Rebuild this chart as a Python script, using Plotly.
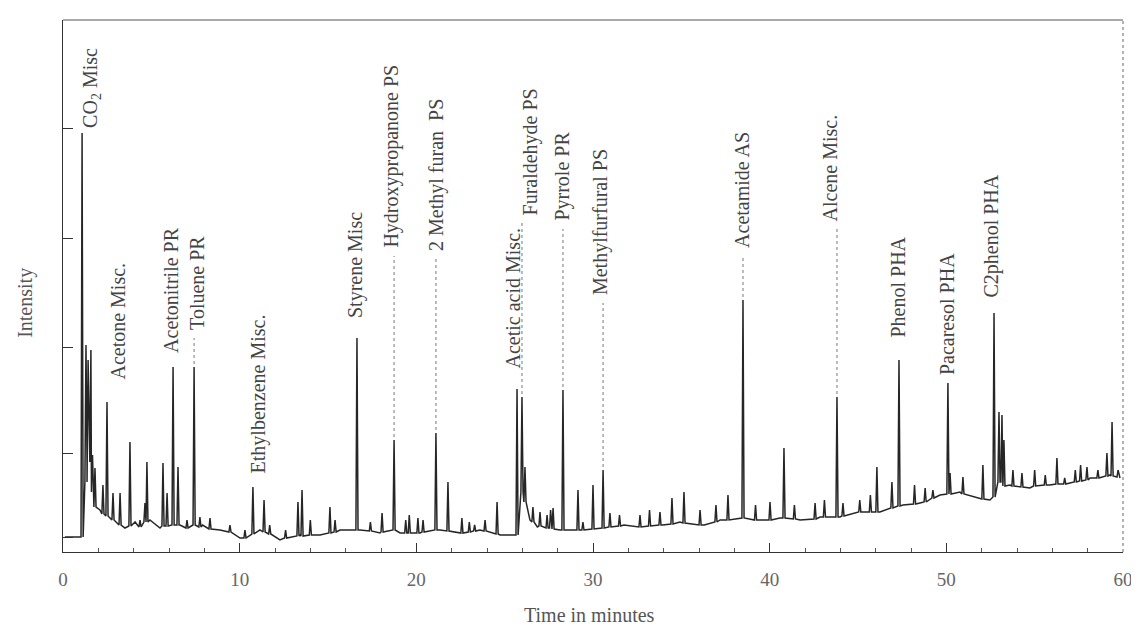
import plotly.graph_objects as go

# ---------------- data ----------------
# time in minutes, intensity in arbitrary units (0 = bottom of frame)
baseline_time = [0.11, 0.96, 2.09, 2.66, 3.51, 4.08, 4.92, 5.49, 6.62, 7.90, 8.89, 10.02,
                 11.15, 12.28, 13.42, 14.55, 15.68, 16.81, 17.94, 19.08, 20.21, 21.34,
                 22.47, 23.60, 24.74, 25.58, 26.43, 26.85, 28.13, 29.26, 30.40, 31.75,
                 32.40, 33.95, 34.92, 36.30, 37.19, 38.32, 39.45, 40.58, 41.72, 42.85,
                 43.98, 45.35, 46.24, 47.55, 48.51, 49.64, 50.77, 51.62, 52.47, 53.60,
                 54.73, 55.86, 56.99, 58.14, 59.26, 59.83]
baseline_int = [15, 15, 42, 34, 24, 30, 32, 24, 27, 27, 22, 14,
                22, 12, 17, 17, 22, 22, 19, 19, 19, 22,
                19, 22, 17, 17, 32, 25, 22, 22, 24, 27,
                25, 27, 30, 27, 32, 34, 32, 34, 32, 35,
                35, 40, 40, 47, 49, 57, 60, 55, 52, 67,
                64, 67, 69, 74, 77, 74]

peak_time = [1.08, 1.30, 1.42, 1.58, 1.67, 1.81, 2.26, 2.49, 2.83, 3.23, 3.79, 4.36,
             4.64, 4.75, 5.66, 5.89, 6.23, 6.51, 7.02, 7.42, 7.75, 8.32, 9.45, 10.30,
             10.75, 11.38, 11.70, 12.60, 13.30, 13.53, 14.00, 15.11, 15.40, 16.64, 17.40,
             18.06, 18.74, 19.40, 19.60, 20.09, 20.38, 21.11, 21.79, 22.58, 23.00, 23.30,
             23.89, 24.57, 25.70, 25.98, 26.15, 26.60, 27.00, 27.40, 27.60, 27.74, 28.30,
             29.15, 29.43, 30.00, 30.57, 30.96, 31.50, 32.66, 33.20, 33.79, 34.47, 35.15,
             36.06, 36.96, 37.64, 38.49, 39.20, 40.02, 40.81, 41.40, 42.57, 43.10, 43.81,
             44.15, 45.10, 45.70, 46.07, 46.92, 47.32, 48.20, 48.80, 49.24, 50.09, 50.21,
             50.94, 52.07, 52.70, 52.98, 53.15, 53.26, 53.77, 54.28, 55.00, 55.60, 56.26,
             56.70, 57.30, 57.60, 57.96, 58.58, 59.09, 59.38, 59.72]
peak_height = [419, 207, 192, 202, 97, 84, 67, 150, 59, 59, 110, 32,
               49, 90, 89, 59, 185, 85, 32, 185, 35, 34, 27, 22,
               65, 52, 27, 22, 50, 62, 32, 45, 32, 214, 30,
               39, 112, 32, 37, 34, 32, 119, 70, 34, 30, 27,
               32, 50, 163, 155, 85, 45, 40, 37, 42, 44, 162,
               62, 30, 67, 82, 39, 37, 37, 42, 40, 54, 60,
               42, 47, 57, 252, 47, 50, 104, 47, 49, 52, 155,
               49, 52, 57, 85, 70, 192, 67, 64, 62, 169, 79,
               75, 87, 239, 140, 137, 112, 82, 79, 82, 77, 94,
               74, 82, 87, 85, 82, 99, 130, 82]
peak_foot = [15, 70, 90, 90, 60, 45, 38, 36, 32, 27, 26, 25,
             30, 30, 26, 26, 27, 27, 24, 27, 25, 23, 20, 14,
             18, 20, 18, 14, 16, 16, 17, 19, 20, 22, 21,
             20, 22, 19, 19, 19, 20, 22, 21, 19, 20, 21,
             21, 18, 17, 60, 50, 30, 26, 24, 24, 23, 22,
             22, 22, 23, 24, 25, 26, 25, 26, 27, 28, 29,
             27, 30, 32, 34, 32, 32, 34, 33, 33, 35, 35,
             36, 40, 40, 40, 44, 46, 48, 50, 54, 58, 58,
             58, 53, 55, 70, 70, 66, 66, 65, 66, 67, 68,
             68, 70, 71, 72, 74, 76, 76, 75]

# peak labels: text, column centre (min), text start (intensity), labelled peak (min, top)
label_text = ["CO<sub>2</sub> Misc", "Acetone Misc.", "Acetonitrile PR", "Toluene PR",
              "Ethylbenzene Misc.", "Styrene Misc", "Hydroxypropanone PS",
              "2 Methyl furan  PS", "Acetic acid Misc.", "Furaldehyde PS", "Pyrrole PR",
              "Methylfurfural PS", "Acetamide AS", "Alcene Misc.", "Phenol PHA",
              "Pacaresol PHA", "C2phenol PHA"]
label_time = [1.58, 3.06, 6.11, 7.58, 11.09, 16.53, 18.57, 21.11, 25.47, 26.49, 28.25,
              30.40, 38.43, 43.41, 47.21, 50.04, 52.53]
label_start = [422, 170, 197, 220, 77, 232, 302, 299, 182, 335, 329, 255, 302, 329,
               212, 175, 252]
label_peak_time = [1.08, 2.49, 6.23, 7.42, 10.75, 16.64, 18.74, 21.11, 25.70, 25.98,
                   28.30, 30.57, 38.49, 43.81, 47.32, 50.09, 52.70]
label_peak_top = [419, 150, 185, 185, 65, 214, 112, 119, 163, 155, 162, 82, 252, 155,
                  192, 169, 239]

x_ticks = [0, 10, 20, 30, 40, 50, 60]
y_ticks = [15, 99, 205, 314, 424]

# ---------------- build the trace ----------------
HALF = 0.06  # half width of a spike, minutes
pts = list(zip(baseline_time, baseline_int))
for t, h, f in zip(peak_time, peak_height, peak_foot):
    pts += [(t - HALF, f), (t, h), (t + HALF, f)]
pts.sort(key=lambda p: p[0])
xs = [p[0] for p in pts]
ys = [p[1] for p in pts]

SERIF = "Liberation Serif, Times New Roman, serif"

fig = go.Figure()
fig.add_trace(go.Scatter(x=xs, y=ys, mode="lines",
                         line=dict(color="#262626", width=1.5),
                         hoverinfo="skip", showlegend=False))

# leader lines from labelled peaks up to their labels
for lt, pt, top, start in zip(label_time, label_peak_time, label_peak_top, label_start):
    if start - top > 25:
        fig.add_trace(go.Scatter(x=[pt, pt], y=[top + 3, start - 6], mode="lines",
                                 line=dict(color="#777777", width=1, dash="dot"),
                                 hoverinfo="skip", showlegend=False))

annotations = []
for txt, lt, start in zip(label_text, label_time, label_start):
    annotations.append(dict(x=lt, y=start, xref="x", yref="y", text=txt, showarrow=False,
                            textangle=-90, xanchor="center", yanchor="bottom",
                            font=dict(family=SERIF, size=20, color="#444444")))

annotations.append(dict(x=0.497, y=-0.118, xref="paper", yref="paper",
                        text="Time in minutes", showarrow=False,
                        xanchor="center", yanchor="middle",
                        font=dict(family=SERIF, size=20, color="#555555")))
annotations.append(dict(x=-0.036, y=0.468, xref="paper", yref="paper",
                        text="Intensity", showarrow=False, textangle=-90,
                        xanchor="center", yanchor="middle",
                        font=dict(family=SERIF, size=20, color="#555555")))

# the page body adds an 8 px offset, so the figure is sized/margined to compensate
fig.update_layout(
    width=1131, height=619,
    margin=dict(l=55, r=16, t=12, b=75, autoexpand=False),
    paper_bgcolor="white", plot_bgcolor="white",
    annotations=annotations,
    xaxis=dict(range=[0, 60], tickvals=x_ticks, ticktext=[str(v) for v in x_ticks],
               ticks="inside", ticklen=9, tickcolor="#333333", tickwidth=1,
               showline=True, linecolor="#333333", linewidth=1.2,
               showgrid=False, zeroline=False, automargin=False,
               minor=dict(dtick=2, ticks="inside", ticklen=4, tickcolor="#555555"),
               tickfont=dict(family=SERIF, size=19, color="#666666"),
               ticklabelstandoff=10),
    yaxis=dict(range=[0, 532], tickvals=y_ticks, showticklabels=False,
               ticks="inside", ticklen=10, tickcolor="#333333",
               showline=True, linecolor="#333333", linewidth=1.2,
               showgrid=False, zeroline=False, automargin=False),
    shapes=[
        dict(type="line", xref="paper", yref="paper", x0=0, x1=1, y0=1, y1=1,
             line=dict(color="#555555", width=1)),
        dict(type="line", xref="paper", yref="paper", x0=1, x1=1, y0=0, y1=1,
             line=dict(color="#666666", width=1, dash="dot")),
    ],
)

fig.write_html("out.html")
